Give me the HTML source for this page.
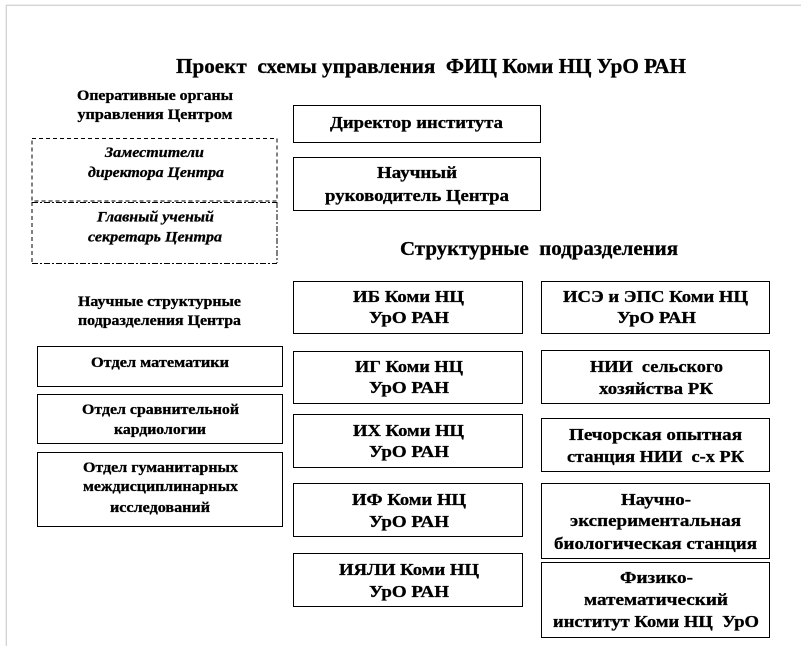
<!DOCTYPE html>
<html><head><meta charset="utf-8">
<style>
html,body{margin:0;padding:0;background:#fff;}
body{width:801px;height:646px;overflow:hidden;position:relative;}
svg{position:absolute;left:0;top:0;}
text{font-family:"Liberation Serif","DejaVu Serif",serif;font-weight:bold;fill:#000;stroke:#000;stroke-width:0.3px;white-space:pre;}
.it{font-style:italic;}
</style></head>
<body>
<svg width="801" height="646" viewBox="0 0 801 646" xmlns="http://www.w3.org/2000/svg">
<!-- page edge -->
<rect x="0" y="0" width="801" height="646" fill="#fff"/>
<line x1="6.5" y1="5" x2="6.5" y2="646" stroke="#d4d4d4" stroke-width="1"/>
<line x1="6" y1="5.5" x2="801" y2="5.5" stroke="#d4d4d4" stroke-width="1"/>
<line x1="5.5" y1="5" x2="5.5" y2="646" stroke="#efefef" stroke-width="1"/>
<line x1="6" y1="4.5" x2="801" y2="4.5" stroke="#efefef" stroke-width="1"/>

<!-- title -->
<text x="431" y="73" font-size="21" text-anchor="middle" textLength="510" lengthAdjust="spacingAndGlyphs">Проект  схемы управления  ФИЦ Коми НЦ УрО РАН</text>

<!-- operative heading -->
<text x="155" y="100" font-size="14.5" text-anchor="middle" textLength="156" lengthAdjust="spacingAndGlyphs">Оперативные органы</text>
<text x="155" y="119" font-size="14.5" text-anchor="middle" textLength="155" lengthAdjust="spacingAndGlyphs">управления Центром</text>

<!-- dashed boxes -->
<rect x="32" y="138.5" width="245" height="62.5" fill="none" stroke="#000" stroke-width="1" stroke-dasharray="4,3"/>
<line x1="32" y1="202.5" x2="277" y2="202.5" stroke="#000" stroke-width="1" stroke-dasharray="6,2,2,2"/>
<line x1="32" y1="202" x2="32" y2="263" stroke="#000" stroke-width="1" stroke-dasharray="4,3"/>
<line x1="277" y1="202" x2="277" y2="263" stroke="#000" stroke-width="1" stroke-dasharray="6,2,2,2"/>
<line x1="32" y1="263.5" x2="277" y2="263.5" stroke="#000" stroke-width="1" stroke-dasharray="6,2,2,2"/>

<text class="it" x="154.5" y="157" font-size="15" text-anchor="middle" textLength="99" lengthAdjust="spacingAndGlyphs">Заместители</text>
<text class="it" x="156" y="177" font-size="15" text-anchor="middle" textLength="136" lengthAdjust="spacingAndGlyphs">директора Центра</text>
<text class="it" x="155.5" y="221.5" font-size="15" text-anchor="middle" textLength="117" lengthAdjust="spacingAndGlyphs">Главный ученый</text>
<text class="it" x="155" y="241.5" font-size="15" text-anchor="middle" textLength="134" lengthAdjust="spacingAndGlyphs">секретарь Центра</text>

<!-- director boxes -->
<rect x="293.5" y="105.5" width="247" height="37" fill="none" stroke="#000" stroke-width="1"/>
<text x="416.5" y="128" font-size="17" text-anchor="middle" textLength="173" lengthAdjust="spacingAndGlyphs">Директор института</text>
<rect x="293.5" y="157.5" width="247" height="53" fill="none" stroke="#000" stroke-width="1"/>
<text x="417" y="178" font-size="17" text-anchor="middle" textLength="80" lengthAdjust="spacingAndGlyphs">Научный</text>
<text x="417" y="201" font-size="17" text-anchor="middle" textLength="184" lengthAdjust="spacingAndGlyphs">руководитель Центра</text>

<!-- structural heading -->
<text x="539" y="255" font-size="19.5" text-anchor="middle" textLength="278" lengthAdjust="spacingAndGlyphs">Структурные  подразделения</text>

<!-- scientific heading -->
<text x="159.5" y="306" font-size="14.5" text-anchor="middle" textLength="163" lengthAdjust="spacingAndGlyphs">Научные структурные</text>
<text x="159.5" y="325" font-size="14.5" text-anchor="middle" textLength="163" lengthAdjust="spacingAndGlyphs">подразделения Центра</text>

<!-- left boxes -->
<rect x="37.5" y="346.5" width="245" height="40" fill="none" stroke="#000" stroke-width="1"/>
<text x="160" y="367" font-size="14.5" text-anchor="middle" textLength="138" lengthAdjust="spacingAndGlyphs">Отдел математики</text>
<rect x="37.5" y="394.5" width="245" height="49" fill="none" stroke="#000" stroke-width="1"/>
<text x="160.5" y="414" font-size="14.5" text-anchor="middle" textLength="157" lengthAdjust="spacingAndGlyphs">Отдел сравнительной</text>
<text x="160" y="434" font-size="14.5" text-anchor="middle" textLength="92" lengthAdjust="spacingAndGlyphs">кардиологии</text>
<rect x="37.5" y="452.5" width="245" height="74" fill="none" stroke="#000" stroke-width="1"/>
<text x="160.5" y="472" font-size="14.5" text-anchor="middle" textLength="155" lengthAdjust="spacingAndGlyphs">Отдел гуманитарных</text>
<text x="160.5" y="491" font-size="14.5" text-anchor="middle" textLength="155" lengthAdjust="spacingAndGlyphs">междисциплинарных</text>
<text x="160" y="512" font-size="14.5" text-anchor="middle" textLength="100" lengthAdjust="spacingAndGlyphs">исследований</text>

<!-- middle column -->
<rect x="293.5" y="281.5" width="229" height="52" fill="none" stroke="#000" stroke-width="1"/>
<text x="408.5" y="302" font-size="17" text-anchor="middle" textLength="111" lengthAdjust="spacingAndGlyphs">ИБ Коми НЦ</text>
<text x="409" y="323" font-size="17" text-anchor="middle" textLength="80" lengthAdjust="spacingAndGlyphs">УрО РАН</text>

<rect x="293.5" y="351.5" width="229" height="52" fill="none" stroke="#000" stroke-width="1"/>
<text x="409" y="372" font-size="17" text-anchor="middle" textLength="108" lengthAdjust="spacingAndGlyphs">ИГ Коми НЦ</text>
<text x="409" y="393" font-size="17" text-anchor="middle" textLength="80" lengthAdjust="spacingAndGlyphs">УрО РАН</text>

<rect x="293.5" y="414.5" width="229" height="53" fill="none" stroke="#000" stroke-width="1"/>
<text x="408.5" y="436" font-size="17" text-anchor="middle" textLength="111" lengthAdjust="spacingAndGlyphs">ИХ Коми НЦ</text>
<text x="409" y="457" font-size="17" text-anchor="middle" textLength="80" lengthAdjust="spacingAndGlyphs">УрО РАН</text>

<rect x="293.5" y="483.5" width="229" height="53" fill="none" stroke="#000" stroke-width="1"/>
<text x="409" y="505" font-size="17" text-anchor="middle" textLength="114" lengthAdjust="spacingAndGlyphs">ИФ Коми НЦ</text>
<text x="409" y="527" font-size="17" text-anchor="middle" textLength="80" lengthAdjust="spacingAndGlyphs">УрО РАН</text>

<rect x="293.5" y="553.5" width="229" height="53" fill="none" stroke="#000" stroke-width="1"/>
<text x="409" y="575" font-size="17" text-anchor="middle" textLength="140" lengthAdjust="spacingAndGlyphs">ИЯЛИ Коми НЦ</text>
<text x="409" y="597" font-size="17" text-anchor="middle" textLength="80" lengthAdjust="spacingAndGlyphs">УрО РАН</text>

<!-- right column -->
<rect x="541.5" y="281.5" width="228" height="52" fill="none" stroke="#000" stroke-width="1"/>
<text x="655.5" y="302" font-size="17" text-anchor="middle" textLength="185" lengthAdjust="spacingAndGlyphs">ИСЭ и ЭПС Коми НЦ</text>
<text x="656.5" y="323" font-size="17" text-anchor="middle" textLength="79" lengthAdjust="spacingAndGlyphs">УрО РАН</text>

<rect x="541.5" y="350.5" width="228" height="53" fill="none" stroke="#000" stroke-width="1"/>
<text x="656.5" y="372" font-size="17" text-anchor="middle" textLength="133" lengthAdjust="spacingAndGlyphs">НИИ  сельского</text>
<text x="656" y="394" font-size="17" text-anchor="middle" textLength="114" lengthAdjust="spacingAndGlyphs">хозяйства РК</text>

<rect x="541.5" y="418.5" width="228" height="53" fill="none" stroke="#000" stroke-width="1"/>
<text x="655.5" y="440" font-size="17" text-anchor="middle" textLength="173" lengthAdjust="spacingAndGlyphs">Печорская опытная</text>
<text x="655.5" y="462" font-size="17" text-anchor="middle" textLength="177" lengthAdjust="spacingAndGlyphs">станция НИИ  с-х РК</text>

<rect x="541.5" y="483.5" width="228" height="75" fill="none" stroke="#000" stroke-width="1"/>
<text x="656" y="505" font-size="17" text-anchor="middle" textLength="70" lengthAdjust="spacingAndGlyphs">Научно-</text>
<text x="655.5" y="526" font-size="17" text-anchor="middle" textLength="171" lengthAdjust="spacingAndGlyphs">экспериментальная</text>
<text x="655.5" y="549" font-size="17" text-anchor="middle" textLength="203" lengthAdjust="spacingAndGlyphs">биологическая станция</text>

<rect x="541.5" y="562.5" width="228" height="75" fill="none" stroke="#000" stroke-width="1"/>
<text x="656.5" y="583" font-size="17" text-anchor="middle" textLength="73" lengthAdjust="spacingAndGlyphs">Физико-</text>
<text x="656" y="605" font-size="17" text-anchor="middle" textLength="144" lengthAdjust="spacingAndGlyphs">математический</text>
<text x="656" y="627" font-size="17" text-anchor="middle" textLength="206" lengthAdjust="spacingAndGlyphs">институт Коми НЦ  УрО</text>
</svg>
</body></html>
